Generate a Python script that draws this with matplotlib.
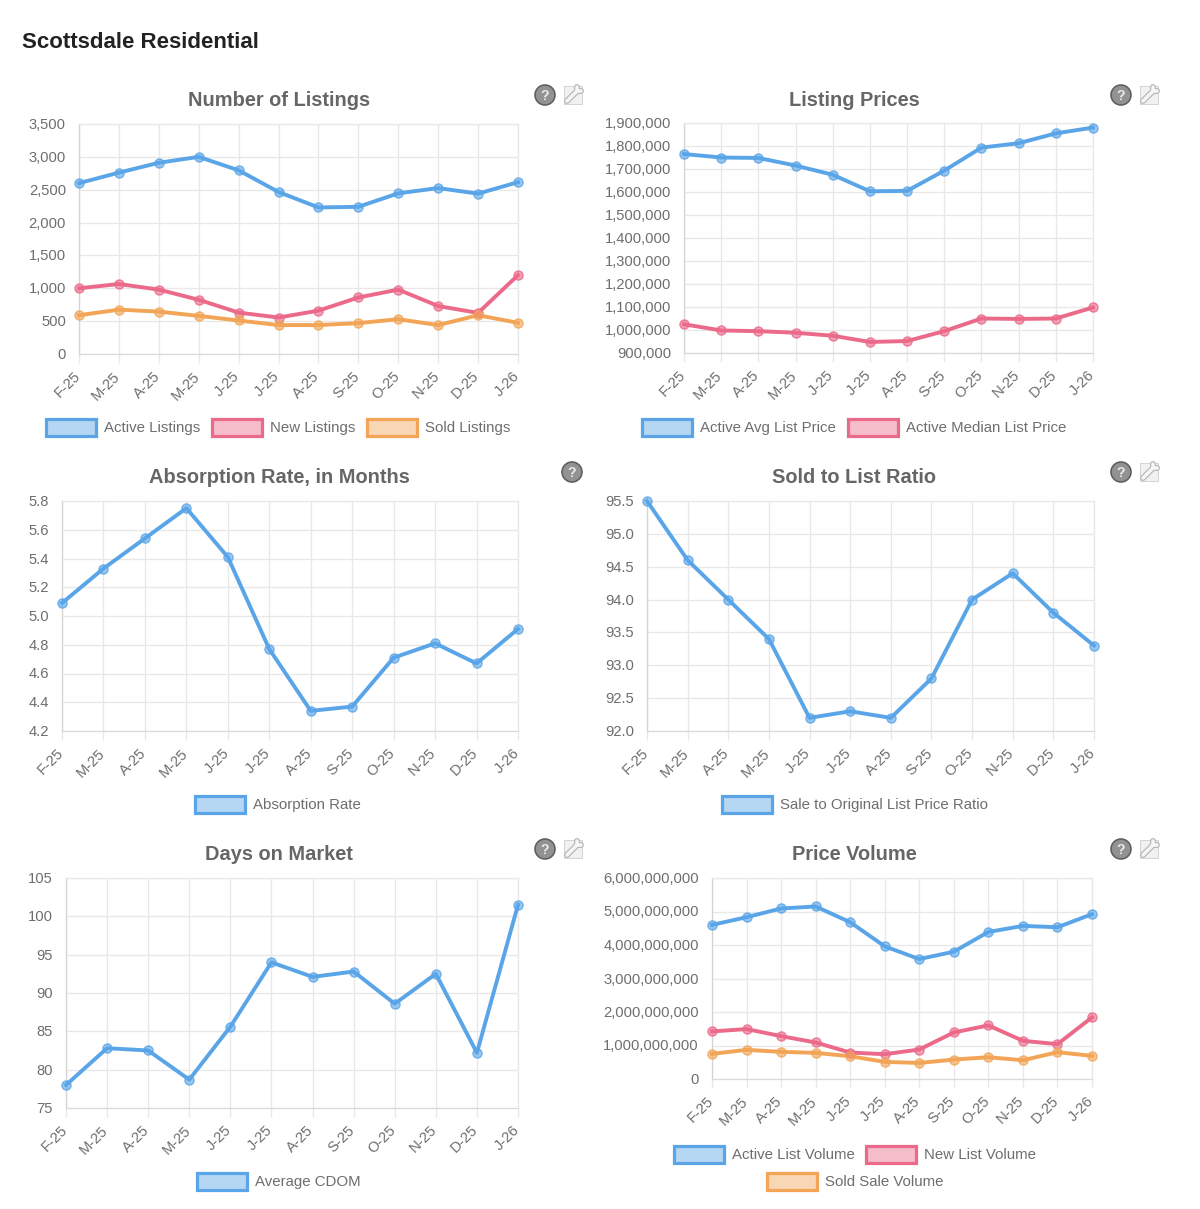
import matplotlib
matplotlib.use('Agg')
import matplotlib.pyplot as plt
from matplotlib.patches import Rectangle, Circle
from matplotlib.lines import Line2D
from matplotlib.ticker import FuncFormatter
from matplotlib.transforms import Affine2D

plt.rcParams['font.family'] = ['Liberation Sans', 'DejaVu Sans']

W, H = 1200, 1209
BLUE = '#5AA5E8'
PINK = '#EB6A8A'
ORANGE = '#F2A556'
GRID = '#E8E8E8'
TEXT = '#6E6E6E'

months = ['F-25', 'M-25', 'A-25', 'M-25', 'J-25', 'J-25', 'A-25', 'S-25', 'O-25', 'N-25', 'D-25', 'J-26']

active_listings = [2600, 2760, 2910, 3000, 2795, 2465, 2230, 2240, 2445, 2525, 2440, 2615]
new_listings = [1000, 1065, 980, 825, 630, 555, 660, 860, 980, 730, 625, 1200]
sold_listings = [590, 675, 645, 580, 510, 440, 440, 470, 530, 440, 590, 475]

avg_list_price = [1765000, 1750000, 1748000, 1715000, 1675000, 1603000, 1605000, 1693000, 1793000, 1812000, 1855000, 1880000]
median_list_price = [1025000, 998000, 995000, 988000, 975000, 948000, 952000, 995000, 1050000, 1048000, 1050000, 1098000]

absorption_rate = [5.09, 5.33, 5.54, 5.75, 5.41, 4.77, 4.34, 4.37, 4.71, 4.81, 4.67, 4.91]
sale_ratio = [95.5, 94.6, 94.0, 93.4, 92.2, 92.3, 92.2, 92.8, 94.0, 94.4, 93.8, 93.3]
average_cdom = [78, 82.8, 82.5, 78.7, 85.6, 94, 92.1, 92.8, 88.6, 92.5, 82.2, 101.5]

active_volume = [4.60e9, 4.83e9, 5.09e9, 5.15e9, 4.68e9, 3.96e9, 3.58e9, 3.80e9, 4.39e9, 4.57e9, 4.53e9, 4.92e9]
new_volume = [1.42e9, 1.49e9, 1.28e9, 1.09e9, 0.79e9, 0.74e9, 0.88e9, 1.39e9, 1.60e9, 1.14e9, 1.04e9, 1.84e9]
sold_volume = [0.75e9, 0.87e9, 0.81e9, 0.78e9, 0.68e9, 0.51e9, 0.48e9, 0.58e9, 0.65e9, 0.56e9, 0.80e9, 0.69e9]

fig = plt.figure(figsize=(W / 100, H / 100), dpi=100, facecolor='white')


def px(v):
    return v * 0.72


def add_panel(left, right, top, bottom, title, title_x, title_y, series, ymin, ymax, step, fmt):
    ax = fig.add_axes([left / W, 1 - bottom / H, (right - left) / W, (bottom - top) / H])
    for values, color in series:
        ax.plot(range(12), values, color=color, lw=px(3.9), clip_on=False, zorder=3,
                solid_joinstyle='round')
        ax.plot(range(12), values, ls='none', marker='o', ms=px(9), mfc=color + '99',
                mec=color + 'CC', mew=px(1.5), clip_on=False, zorder=4)
    ax.set_xlim(0, 11)
    ax.set_ylim(ymin, ymax)
    n = round((ymax - ymin) / step)
    ax.set_yticks([ymin + i * step for i in range(n + 1)])
    ax.set_xticks(range(12))
    ax.set_xticklabels(months, rotation=45, ha='right', va='top', rotation_mode='anchor')
    ax.yaxis.set_major_formatter(FuncFormatter(fmt))
    ax.grid(True, color=GRID, lw=px(1.3))
    ax.set_axisbelow(True)
    ax.tick_params(axis='x', length=px(9), width=px(1.3), color=GRID, pad=px(6),
                   labelsize=px(14.8), labelcolor=TEXT)
    ax.tick_params(axis='y', length=0, pad=px(13), labelsize=px(14.8), labelcolor=TEXT)
    # nudge the labels in pixels so they sit where the reference has them
    for label in ax.get_xticklabels():
        label.set_transform(label.get_transform() + Affine2D().translate(-6, 0))
    for label in ax.get_yticklabels():
        label.set_va('center')
        label.set_transform(label.get_transform() + Affine2D().translate(0, -1))
    for side in ax.spines:
        ax.spines[side].set_color(GRID)
        ax.spines[side].set_linewidth(px(1.3))
    ax.spines['left'].set_color('#D4D4D4')
    ax.spines['bottom'].set_color('#DADADA')
    fig.text(title_x / W, 1 - (title_y + 1) / H, title, ha='center', va='center',
             fontsize=px(20), fontweight='bold', color='#666666')
    return ax


def add_legend(x, y, label, color):
    # box of 50x17 px with its label to the right
    fig.add_artist(Rectangle((x / W, 1 - (y + 8.5) / H), 50 / W, 17 / H, transform=fig.transFigure,
                             fc=color + '70', ec=color, lw=px(3.2)))
    fig.text((x + 58) / W, 1 - (y + 1) / H, label, ha='left', va='center', fontsize=px(15), color=TEXT)


def add_help(cx, cy):
    fig.add_artist(Circle((cx, H - cy), 10, transform=None, fc='#929292', ec='#5E5E5E', lw=px(1.6)))
    fig.text(cx / W, 1 - (cy + 0.5) / H, '?', ha='center', va='center', fontsize=px(14),
             fontweight='bold', color='#E8E8E8')


def wrench_line(x0, y0, x1, y1, color, width):
    fig.add_artist(Line2D([x0 / W, x1 / W], [1 - y0 / H, 1 - y1 / H], transform=fig.transFigure,
                          color=color, lw=px(width), solid_capstyle='round'))


def add_wrench(cx, cy):
    fig.add_artist(Rectangle(((cx - 9) / W, 1 - (cy + 9) / H), 18 / W, 18 / H, transform=fig.transFigure,
                             fc='#F1F1F1', ec='#D4D4D4', lw=px(1)))
    segments = [(cx - 6, cy + 6, cx + 4, cy - 4), (cx + 4, cy - 4, cx + 8, cy - 4), (cx + 4, cy - 4, cx + 4, cy - 8)]
    for width, color in [(6, '#B8B8B8'), (3.5, '#F6F6F6')]:
        for x0, y0, x1, y1 in segments:
            wrench_line(x0, y0, x1, y1, color, width)


comma = lambda v, pos: f'{v:,.0f}'
one_dec = lambda v, pos: f'{v:.1f}'

fig.text(22 / W, 1 - 43 / H, 'Scottsdale Residential', ha='left', va='center',
         fontsize=px(22.3), fontweight='bold', color='#222222')

add_panel(79, 518, 124, 354, 'Number of Listings', 279, 99,
          [(active_listings, BLUE), (new_listings, PINK), (sold_listings, ORANGE)],
          0, 3500, 500, comma)
add_panel(684, 1093, 123, 353, 'Listing Prices', 854, 99,
          [(avg_list_price, BLUE), (median_list_price, PINK)],
          900000, 1900000, 100000, comma)
add_panel(62, 518, 501, 731, 'Absorption Rate, in Months', 279, 476,
          [(absorption_rate, BLUE)], 4.2, 5.8, 0.2, one_dec)
add_panel(647, 1094, 501, 731, 'Sold to List Ratio', 854, 476,
          [(sale_ratio, BLUE)], 92, 95.5, 0.5, one_dec)
add_panel(66, 518, 878, 1108, 'Days on Market', 279, 853,
          [(average_cdom, BLUE)], 75, 105, 5, comma)
add_panel(712, 1092, 878, 1079, 'Price Volume', 854, 853,
          [(active_volume, BLUE), (new_volume, PINK), (sold_volume, ORANGE)],
          0, 6000000000, 1000000000, comma)

add_legend(46, 427, 'Active Listings', BLUE)
add_legend(212, 427, 'New Listings', PINK)
add_legend(367, 427, 'Sold Listings', ORANGE)
add_legend(642, 427, 'Active Avg List Price', BLUE)
add_legend(848, 427, 'Active Median List Price', PINK)
add_legend(195, 804, 'Absorption Rate', BLUE)
add_legend(722, 804, 'Sale to Original List Price Ratio', BLUE)
add_legend(197, 1181, 'Average CDOM', BLUE)
add_legend(674, 1154, 'Active List Volume', BLUE)
add_legend(866, 1154, 'New List Volume', PINK)
add_legend(767, 1181, 'Sold Sale Volume', ORANGE)

for cx, cy in [(545, 95), (1121, 95), (572, 472), (1121, 472), (545, 849), (1121, 849)]:
    add_help(cx, cy)
for cx, cy in [(573, 95), (1149, 95), (1149, 472), (573, 849), (1149, 849)]:
    add_wrench(cx, cy)

fig.savefig('out.png', dpi=100, facecolor='white')
